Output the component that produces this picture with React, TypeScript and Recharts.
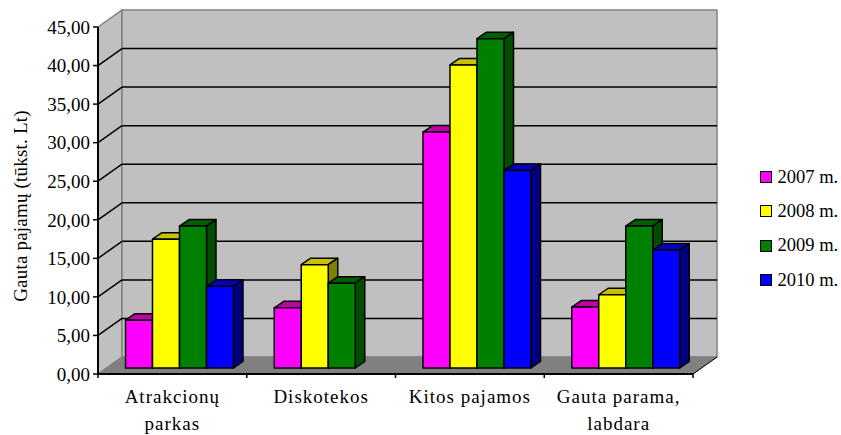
import { BarChart, Bar, XAxis, YAxis, CartesianGrid, Legend, ReferenceArea } from "recharts";

const categories = ["Atrakcionų\nparkas", "Diskotekos", "Kitos pajamos", "Gauta parama,\nlabdara"];
const v2007 = [6.2, 7.8, 30.6, 7.9];
const v2008 = [16.7, 13.4, 39.3, 9.5];
const v2009 = [18.4, 11.0, 42.7, 18.4];
const v2010 = [10.6, 0, 25.6, 15.3];
const yTicks = [0, 5, 10, 15, 20, 25, 30, 35, 40, 45];
const yTitle = "Gauta pajamų (tūkst. Lt)";

const data = categories.map((name, i) => ({
  name,
  "2007 m.": v2007[i],
  "2008 m.": v2008[i],
  "2009 m.": v2009[i],
  "2010 m.": v2010[i] || null,
}));

const series = [
  { key: "2007 m.", fill: "#ff00ff", top: "#c000a8", side: "#800080" },
  { key: "2008 m.", fill: "#ffff00", top: "#c8c000", side: "#808000" },
  { key: "2009 m.", fill: "#008000", top: "#006000", side: "#004d00" },
  { key: "2010 m.", fill: "#0000ff", top: "#0000c0", side: "#000080" },
];

const FONT = "'Liberation Serif', serif";
const DX = 24;
const DY = 17;

// fake 3D: floor and walls behind the front plane
function Walls({ x, y, width, height }: any) {
  const b = y + height;
  const r = x + width;
  return (
    <g>
      <polygon points={`${x},${y} ${x + DX},${y - DY} ${x + DX},${b - DY} ${x},${b}`} fill="#c0c0c0" stroke="#808080" strokeWidth={1.5} />
      <rect x={x + DX} y={y - DY} width={width} height={height} fill="#c0c0c0" stroke="#808080" strokeWidth={1.5} />
      <polygon points={`${x},${b} ${x + DX},${b - DY} ${r + DX},${b - DY} ${r},${b}`} fill="#808080" stroke="#808080" />
    </g>
  );
}

function GridLine({ x1, y1, x2, index }: any) {
  if (index === 0 || index === yTicks.length - 1) return <g />;
  return (
    <g>
      <line x1={x1} y1={y1} x2={x1 + DX} y2={y1 - DY} stroke="#000" strokeWidth={1.5} />
      <line x1={x1 + DX} y1={y1 - DY} x2={x2 + DX} y2={y1 - DY} stroke="#000" strokeWidth={1.5} />
    </g>
  );
}

function Bar3D({ x, y, width, height, fill, top, side }: any) {
  if (!height) return <g />;
  const fx = x + 7.5;
  const fy = y - 6;
  const d = 9.5;
  const e = 6.5;
  const st = { stroke: "#000", strokeWidth: 1.5, strokeLinejoin: "round" as const };
  return (
    <g>
      <polygon points={`${fx},${fy} ${fx + d},${fy - e} ${fx + width + d},${fy - e} ${fx + width},${fy}`} fill={top} {...st} />
      <polygon points={`${fx + width},${fy} ${fx + width + d},${fy - e} ${fx + width + d},${fy + height - e} ${fx + width},${fy + height}`} fill={side} {...st} />
      <rect x={fx} y={fy} width={width} height={height} fill={fill} {...st} />
    </g>
  );
}

function CategoryTick({ x, y, payload, index }: any) {
  const step = 148.75;
  const left = x - step / 2;
  const lines = String(payload.value).split("\n");
  return (
    <g>
      <line x1={left} y1={y - 8} x2={left} y2={y - 4} stroke="#000" strokeWidth={1.5} />
      {index === categories.length - 1 && (
        <>
          <line x1={x + step / 2} y1={y - 8} x2={x + step / 2} y2={y - 4} stroke="#000" strokeWidth={1.5} />
          <line x1={x + step / 2} y1={y - 8} x2={x + step / 2 + DX} y2={y - 8 - DY} stroke="#000" strokeWidth={1} />
        </>
      )}
      {lines.map((t, i) => (
        <text key={t} x={x} y={y + 21 + i * 26.5} textAnchor="middle" fontFamily={FONT} fontSize={19} fill="#000" letterSpacing={1}>
          {t}
        </text>
      ))}
    </g>
  );
}

function YTitle({ viewBox }: any) {
  const cx = 27;
  const cy = viewBox.y + viewBox.height / 2 + 5.5;
  return (
    <text x={cx} y={cy} transform={`rotate(-90 ${cx} ${cy})`} textAnchor="middle" fontFamily={FONT} fontSize={19} letterSpacing={0.2} fill="#000">
      {yTitle}
    </text>
  );
}

function LegendBox() {
  return (
    <div style={{ width: 81, fontFamily: FONT, fontSize: 18.5, color: "#000" }}>
      {series.map((s) => (
        <div key={s.key} style={{ display: "flex", alignItems: "center", height: 34.3, whiteSpace: "nowrap" }}>
          <span style={{ width: 10, height: 10, background: s.fill, border: "1.5px solid #000", marginRight: 5.5, flex: "none" }} />
          {s.key}
        </div>
      ))}
    </div>
  );
}

export default function App() {
  return (
    <div style={{ position: "absolute", left: 0, top: 0 }}>
      <BarChart
        width={841}
        height={435}
        data={data}
        margin={{ top: 27, right: 67, bottom: 0, left: 0 }}
        barSize={27}
        barGap={0}
      >
        <ReferenceArea y1={0} y2={45} shape={Walls} ifOverflow="visible" zIndex={-200} />
        <CartesianGrid vertical={false} horizontal={GridLine} zIndex={-100} />
        <XAxis
          dataKey="name"
          height={61}
          interval={0}
          tick={CategoryTick}
          tickLine={false}
          axisLine={{ stroke: "#000", strokeWidth: 2 }}
        />
        <YAxis
          width={98}
          domain={[0, 45]}
          ticks={yTicks}
          interval={0}
          tickSize={5}
          tickMargin={3}
          tickFormatter={(v: number) => v.toFixed(2).replace(".", ",")}
          tick={{ fill: "#000", fontFamily: FONT, fontSize: 19 }}
          tickLine={{ stroke: "#000", strokeWidth: 1.5 }}
          axisLine={{ stroke: "#000", strokeWidth: 2 }}
          label={{ content: YTitle }}
        />
        <Legend
          layout="vertical"
          align="right"
          verticalAlign="middle"
          content={LegendBox}
          wrapperStyle={{ left: 760, right: "auto", top: 160 }}
        />
        {series.map((s) => (
          <Bar
            key={s.key}
            dataKey={s.key}
            fill={s.fill}
            isAnimationActive={false}
            shape={(p: any) => <Bar3D {...p} fill={s.fill} top={s.top} side={s.side} />}
          />
        ))}
      </BarChart>
    </div>
  );
}
